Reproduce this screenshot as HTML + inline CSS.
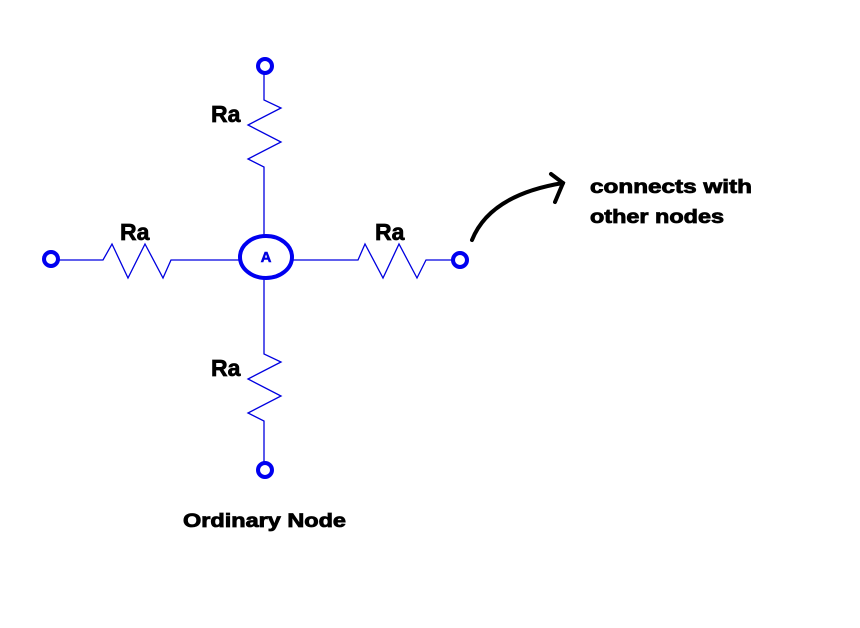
<!DOCTYPE html>
<html><head><meta charset="utf-8"><style>
html,body{margin:0;padding:0;background:#fff;}
svg{display:block;}
text{font-family:"Liberation Sans",Arial,sans-serif;font-weight:bold;}
</style></head><body>
<svg width="860" height="628" viewBox="0 0 860 628">
<g stroke="#0000e0" stroke-width="1.3" fill="none">
  <polyline points="264,74 264,100 281,108 248,125 281,142 248,159 264,167 264,235"/>
  <polyline points="264,279 264,354 281,362 248,379 281,396 248,413 264,421 264,463"/>
  <polyline points="59,260 103,260 112,244 128,278 145,244 163,278 171,260 239,260"/>
  <polyline points="293,260 358,260 365,244 383,278 399,244 417,278 426,260 452,260"/>
</g>
<g stroke="#0000f0" stroke-width="4" fill="#fff">
  <circle cx="265" cy="66" r="7"/>
  <circle cx="265" cy="470" r="7"/>
  <circle cx="51" cy="259" r="7"/>
  <circle cx="460" cy="260" r="7"/>
  <ellipse cx="266" cy="257" rx="26" ry="21"/>
</g>
<text x="266" y="262" font-size="15" fill="#0000e0" stroke="#0000e0" stroke-width="0.5" text-anchor="middle">A</text>
<g font-size="23" fill="#000" stroke="#000" stroke-width="0.7">
  <text x="211" y="122">Ra</text>
  <text x="120" y="240">Ra</text>
  <text x="375" y="240">Ra</text>
  <text x="211" y="376">Ra</text>
</g>
<g stroke="#000" stroke-width="4" fill="none" stroke-linecap="round">
  <path d="M472,240 Q490,195 563,183"/>
  <polyline points="551,174 563,183 555,202"/>
</g>
<g font-size="19" fill="#000" stroke="#000" stroke-width="0.8">
  <text x="590" y="193" textLength="162" lengthAdjust="spacingAndGlyphs">connects with</text>
  <text x="590" y="223" textLength="134" lengthAdjust="spacingAndGlyphs">other nodes</text>
  <text x="183" y="527" textLength="163" lengthAdjust="spacingAndGlyphs">Ordinary Node</text>
</g>
</svg>
</body></html>
